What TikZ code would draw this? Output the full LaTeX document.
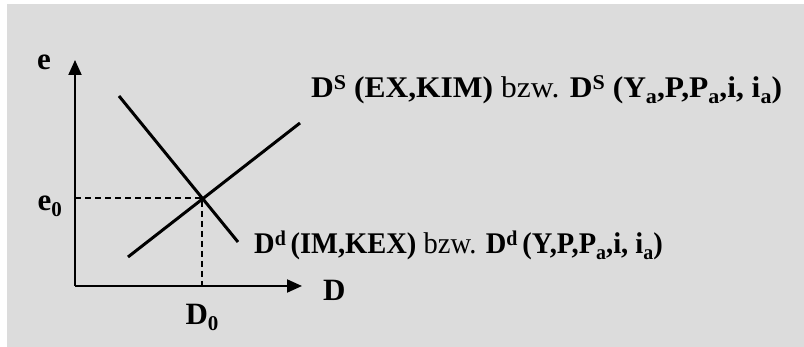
\documentclass[tikz,border=0pt]{standalone}
\usepackage{fontspec}
\setmainfont{Liberation Serif}
\usetikzlibrary{arrows.meta}
\newcommand{\sps}[1]{\raisebox{8pt}{\fontsize{21}{21}\selectfont #1}}
\newcommand{\sbs}[1]{\raisebox{-6pt}{\fontsize{21}{21}\selectfont #1}}
\definecolor{bggray}{HTML}{DCDCDC}
\tikzset{
  axis/.style={line width=2pt,-{Triangle[length=15pt,width=13pt]}},
  curve/.style={line width=3pt},
  guide/.style={line width=1.5pt,dash pattern=on 6pt off 4pt},
  lbl/.style={inner sep=0pt,font=\fontsize{30}{34}\selectfont\bfseries},
  axlbl/.style={inner sep=0pt,font=\fontsize{31}{34}\selectfont\bfseries},
}
\begin{document}
\begin{tikzpicture}[x=1pt,y=-1pt]
\useasboundingbox (0,0) rectangle (804,347);
\fill[white] (0,0) rectangle (804,347);
\fill[bggray] (7,4) rectangle (804,347);
\coordinate (O) at (75,286);
\coordinate (ytip) at (75,60);
\coordinate (xtip) at (302,286);
\coordinate (E) at (202,198);
\coordinate (e0pt) at (75,198);
\coordinate (d0pt) at (202,286);
\coordinate (s1) at (128,257);
\coordinate (s2) at (300,123);
\coordinate (d1) at (119,96);
\coordinate (d2) at (238,242);
\draw[axis] (O) -- (ytip);
\draw[axis] (O) -- (xtip);
\draw[guide] (e0pt) -- (E) -- (d0pt);
\draw[curve] (s1) -- (s2);
\draw[curve] (d1) -- (d2);
\node[axlbl,anchor=base east] (e) at (51,70) {e};
\node[axlbl,anchor=base west] (D) at (323,301) {D};
\node[axlbl,anchor=base east] (e0) at (62,211) {e\sbs{0}};
\node[axlbl,anchor=base] (D0) at (202,325) {D\sbs{0}};
\node[lbl,anchor=base west] (supply) at (311,98) {\scalebox{1.05}[1]{D\sps{S} (EX,KIM) \mdseries bzw. \bfseries D\sps{S} (Y\sbs{a},P,P\sbs{a},i, i\sbs{a})}};
\node[lbl,anchor=base west] (demand) at (254,254) {\scalebox{0.95}[1]{D\sps{d}\,(IM,KEX) \mdseries bzw. \bfseries D\sps{d}\,(Y,P,P\sbs{a},i, i\sbs{a})}};
\end{tikzpicture}
\end{document}
